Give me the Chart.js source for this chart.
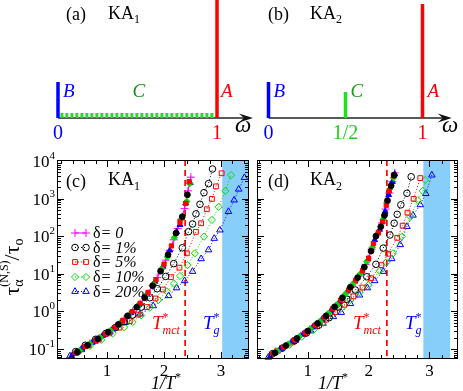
<!DOCTYPE html>
<html>
<head>
<meta charset="utf-8">
<script src="https://cdn.jsdelivr.net/npm/chart.js@4.4.1/dist/chart.umd.min.js"></script>
<style>
html,body{margin:0;padding:0;background:#ffffff;}
#wrap{position:relative;width:463px;height:391px;overflow:hidden;background:#fff}
#wrap canvas{position:absolute;left:0;top:0}
</style>
</head>
<body>
<div id="wrap">
<canvas id="pa" width="463" height="391"></canvas>
<canvas id="pb" width="463" height="391"></canvas>
<canvas id="pc" width="463" height="391"></canvas>
<canvas id="pd" width="463" height="391"></canvas>
</div>
<script>
// ---------------- DATA ----------------
// (a) KA1 spectrum: delta peaks B (omega=0), A (omega=1), continuum C between
const specA_peakW = [0, 1];
const specA_peakH = [0.305, 1.05];
const specA_contW = [0.015, 0.985];
const specA_contH = [0.021, 0.021];
// (b) KA2 spectrum: B (0), C (1/2), A (1)
const specB_peakW = [0, 0.5, 1];
const specB_peakH = [0.305, 0.22, 0.966];
const specTickLabelsA = ['0', '1'];
const specTickLabelsB = ['0', '1/2', '1'];

// x tick labels, y decades
const xTickLabels = [1, 2, 3];
const yDecades = [-1, 0, 1, 2, 3, 4];
const legendLabels = ['0', '1%', '5%', '10%', '20%'];

// (c) KA1 : open symbols, delta = 0,1,5,10,20 %
const c0x = [0.42,0.55,0.7,0.86,1.0,1.15,1.3,1.45,1.58,1.7,1.8,1.88,1.96,2.03,2.1,2.17,2.24,2.3,2.36,2.42,2.47];
const c0y = [0.071,0.1,0.14,0.19,0.27,0.39,0.62,1.0,1.6,2.8,4.8,7.9,13.5,23,42,80,160,280,540,1600,3700];
const c1x = [0.45,0.62,0.8,0.98,1.15,1.3,1.45,1.6,1.75,1.88,2.03,2.17,2.32,2.43,2.5,2.56,2.63,2.7,2.78,2.85];
const c1y = [0.085,0.125,0.18,0.26,0.37,0.53,0.8,1.3,2.3,4.0,8.5,18.6,49,132,211,390,705,1435,2490,6100];
const c5x = [0.5,0.68,0.86,1.04,1.22,1.4,1.55,1.7,1.85,1.98,2.12,2.27,2.4,2.56,2.65,2.75,2.84,2.91,3.01];
const c5y = [0.088,0.125,0.18,0.26,0.37,0.55,0.82,1.3,2.2,3.8,8.1,14.5,35,130,220,520,980,2100,4700];
const c10x = [0.5,0.7,0.9,1.1,1.3,1.45,1.6,1.75,1.9,2.05,2.17,2.28,2.41,2.54,2.7,2.84,2.96,3.075,3.175];
const c10y = [0.082,0.12,0.175,0.26,0.38,0.52,0.78,1.25,2.0,3.4,5.5,8.7,17,35,97,270,600,1600,4200];
const c20x = [0.35,0.55,0.79,1.05,1.32,1.58,1.81,2.08,2.22,2.36,2.5,2.65,2.78,2.88,2.98,3.13,3.23,3.31,3.41];
const c20y = [0.065,0.095,0.16,0.28,0.5,0.85,1.4,2.6,4.2,6.5,11.5,25,43,87,145,450,910,1770,3600];
// (c) filled symbols
const cf1x = [0.48,0.66,0.84,1.02,1.2,1.36,1.52,1.66,1.8,1.94,2.07,2.21,2.32,2.41];
const cf1y = [0.083,0.126,0.186,0.28,0.45,0.76,1.29,2.3,4.8,11.7,32,120,330,1260];
const cf5x = [0.45,0.62,0.8,0.97,1.14,1.28,1.44,1.58,1.72,1.86,2.0,2.13,2.28,2.38,2.44];
const cf5y = [0.076,0.117,0.17,0.25,0.38,0.58,0.98,1.62,3.2,6.9,18,55,235,740,2800];
const cf10x = [0.52,0.7,0.88,1.06,1.22,1.38,1.54,1.68,1.82,1.96,2.06,2.18,2.3,2.4,2.45];
const cf10y = [0.091,0.138,0.204,0.31,0.48,0.79,1.4,2.6,5.4,13.5,28,91,280,830,2500];
const cf20x = [0.38,0.56,0.74,0.92,1.1,1.26,1.42,1.56,1.7,1.84,1.98,2.1,2.22,2.28,2.38,2.46];
const cf20y = [0.065,0.102,0.148,0.224,0.34,0.54,0.91,1.5,2.8,6.2,15.5,42,130,200,760,2600];

// (d) KA2 : open symbols
const d0x = [0.4,0.55,0.72,0.88,1.03,1.18,1.32,1.46,1.6,1.72,1.84,1.95,2.05,2.14,2.22,2.28,2.34,2.39,2.43];
const d0y = [0.068,0.098,0.148,0.224,0.33,0.5,0.81,1.4,2.6,4.8,8.7,17.8,45,107,224,525,1400,2800,4800];
const d1x = [0.42,0.58,0.78,0.98,1.18,1.35,1.5,1.64,1.78,1.97,2.12,2.24,2.35,2.42,2.47,2.53,2.63,2.7];
const d1y = [0.075,0.105,0.165,0.27,0.43,0.68,1.3,2.1,3.7,8.3,17.8,48,107,220,380,680,1380,3800];
const d5x = [0.5,0.75,0.95,1.15,1.3,1.45,1.6,1.75,1.9,2.04,2.21,2.32,2.47,2.56,2.64,2.74,2.85];
const d5y = [0.09,0.15,0.25,0.4,0.6,0.95,1.5,2.5,4.3,7.6,17,34,90,190,420,980,3500];
const d10x = [0.5,0.7,0.9,1.1,1.25,1.4,1.55,1.7,1.85,2.0,2.18,2.29,2.4,2.545,2.69,2.81,2.89,2.93];
const d10y = [0.085,0.13,0.21,0.33,0.5,0.78,1.2,2.0,3.2,5.0,12,20,35,98,330,910,1600,3100];
const d20x = [0.35,0.55,0.8,1.05,1.25,1.42,1.55,1.7,1.85,1.98,2.1,2.24,2.38,2.52,2.63,2.73,2.85,2.94,3.04];
const d20y = [0.06,0.1,0.17,0.3,0.48,0.72,0.93,1.6,2.7,4.2,6.5,11.5,25,59,180,360,680,1350,4200];
// (d) filled symbols
const df1x = [0.46,0.64,0.82,1.0,1.16,1.3,1.44,1.57,1.7,1.82,1.93,2.04,2.12,2.2,2.26,2.31,2.37,2.42];
const df1y = [0.079,0.123,0.19,0.3,0.48,0.76,1.32,2.3,4.4,7.9,15,40,100,178,355,890,2200,4200];
const df5x = [0.42,0.6,0.78,0.96,1.12,1.27,1.41,1.54,1.67,1.79,1.9,2.0,2.08,2.16,2.23,2.29,2.34,2.41];
const df5y = [0.074,0.112,0.174,0.275,0.43,0.68,1.17,2.0,3.7,6.8,12,26,63,126,240,660,1600,4000];
const df10x = [0.5,0.68,0.86,1.04,1.2,1.34,1.48,1.62,1.75,1.86,1.97,2.06,2.15,2.24,2.3,2.35,2.41];
const df10y = [0.087,0.135,0.214,0.34,0.54,0.89,1.5,2.9,5.5,9.8,21,50,117,280,790,1800,3550];
const df20x = [0.38,0.56,0.74,0.92,1.08,1.23,1.38,1.52,1.65,1.77,1.88,1.99,2.1,2.18,2.27,2.33,2.39,2.43];
const df20y = [0.063,0.102,0.155,0.245,0.38,0.6,1.05,1.8,3.4,6.2,10.7,24.5,79,150,450,1260,2800,4470];

// ---------------- HELPERS ----------------
const FONT = '"Liberation Serif","Times New Roman",serif';
const f = (s, st) => (st ? st + ' ' : '') + s + 'px ' + FONT;
const MAG = '#ff00ff', BLK = '#000000', RED = '#ff0000', GRN = '#00dd00', BLU = '#0000ff';

function pts(xs, ys) { return xs.map((x, i) => ({ x: x, y: ys[i] })); }

function richWidth(ctx, parts) {
  let x = 0, ps = 0, pe = 0;
  for (const p of parts) {
    ctx.font = p.f; const w = ctx.measureText(p.t).width;
    if (p.stack) { pe = Math.max(pe, ps + w); x = pe; } else { ps = x; pe = x + w; x = pe; }
  }
  return x;
}
function rich(ctx, x0, y, parts, align) {
  const W = richWidth(ctx, parts);
  let x = align === 'right' ? x0 - W : align === 'center' ? x0 - W / 2 : x0;
  let ps = x, pe = x;
  ctx.textAlign = 'left'; ctx.textBaseline = 'alphabetic';
  for (const p of parts) {
    ctx.font = p.f; ctx.fillStyle = p.c || '#000';
    const w = ctx.measureText(p.t).width;
    const sx = p.stack ? ps : pe;
    ctx.fillText(p.t, sx, y + (p.dy || 0));
    if (p.stack) { pe = Math.max(pe, sx + w); } else { ps = sx; pe = sx + w; }
  }
}
function txt(ctx, s, x, y, font, color, align) {
  ctx.font = font; ctx.fillStyle = color || '#000'; ctx.textAlign = align || 'left'; ctx.textBaseline = 'alphabetic';
  ctx.fillText(s, x, y);
}

// ---------------- PANELS (a), (b) ----------------
function vbar(w, h, color, width) {
  return { data: [{ x: w, y: 0 }, { x: w, y: h }], showLine: true, borderColor: color, borderWidth: width,
    pointRadius: 0, clip: false, borderCapStyle: 'butt' };
}
function specPlugin(cfg) {
  return {
    id: 'spec' + cfg.id,
    beforeDatasetsDraw(chart) {
      const ctx = chart.ctx, xs = chart.scales.x, ys = chart.scales.y;
      const y0 = ys.getPixelForValue(0), x0 = xs.getPixelForValue(0), xe = xs.getPixelForValue(cfg.axisEnd);
      ctx.save();
      ctx.strokeStyle = '#5a5a5a'; ctx.lineWidth = 2;
      ctx.beginPath(); ctx.moveTo(x0, y0); ctx.lineTo(xe - 5, y0); ctx.stroke();
      ctx.fillStyle = '#111';
      ctx.beginPath(); ctx.moveTo(xe, y0); ctx.lineTo(xe - 14, y0 - 4.5); ctx.lineTo(xe - 9, y0);
      ctx.lineTo(xe - 14, y0 + 4.5); ctx.closePath(); ctx.fill();
      ctx.restore();
    },
    afterDraw(chart) {
      const ctx = chart.ctx, xs = chart.scales.x;
      ctx.save();
      txt(ctx, cfg.tag, cfg.tagX, 20, f(18));
      rich(ctx, cfg.tagX + 42, 19, [{ t: 'KA', f: f(18) }, { t: cfg.sub, f: f(12), dy: 4 }]);
      cfg.labels.forEach(l => txt(ctx, l.t, xs.getPixelForValue(l.w) + l.dx, 97, f(19, 'italic'), l.c));
      cfg.ticks.forEach(tk => txt(ctx, tk.t, xs.getPixelForValue(tk.w), 139, f(20), tk.c, 'center'));
      txt(ctx, '\u03c9', cfg.omegaX, 132, f(23, 'italic'), '#000', 'center');
      ctx.restore();
    }
  };
}
const baseOpts = (pad, xmin, xmax, ytype, ymin, ymax) => ({
  responsive: false, animation: false, events: [],
  layout: { padding: pad },
  scales: {
    x: { type: 'linear', display: false, min: xmin, max: xmax },
    y: { type: ytype, display: false, min: ymin, max: ymax }
  },
  plugins: { legend: { display: false }, tooltip: { enabled: false } }
});

new Chart(document.getElementById('pa'), {
  type: 'scatter',
  data: { datasets: [
    { data: pts(specA_contW, specA_contH), showLine: true, borderColor: '#22dd22', borderWidth: 5,
      borderDash: [3, 2], pointRadius: 0, clip: false, borderCapStyle: 'butt' },
    vbar(specA_peakW[0], specA_peakH[0], BLU, 3.5),
    vbar(specA_peakW[1], specA_peakH[1], RED, 3.5)
  ] },
  options: baseOpts({ left: 40, right: 203, top: 0, bottom: 273 }, -0.1132, 1.2704, 'linear', 0, 1),
  plugins: [specPlugin({ id: 'a', axisEnd: 1.226, tag: '(a)', tagX: 66, sub: '1', omegaX: 243,
    labels: [{ t: 'B', w: 0, dx: 5, c: BLU }, { t: 'C', w: 0.5, dx: -5, c: '#1a8f1a' }, { t: 'A', w: 1, dx: 4, c: RED }],
    ticks: [{ t: specTickLabelsA[0], w: 0, c: BLU }, { t: specTickLabelsA[1], w: 1, c: RED }] })]
});

new Chart(document.getElementById('pb'), {
  type: 'scatter',
  data: { datasets: [
    vbar(specB_peakW[0], specB_peakH[0], BLU, 3.5),
    vbar(specB_peakW[1], specB_peakH[1], '#22dd22', 3.5),
    vbar(specB_peakW[2], specB_peakH[2], RED, 3.5)
  ] },
  options: baseOpts({ left: 250, right: 0, top: 0, bottom: 273 }, -0.1201, 1.263, 'linear', 0, 1),
  plugins: [specPlugin({ id: 'b', axisEnd: 1.19, tag: '(b)', tagX: 268, sub: '2', omegaX: 450,
    labels: [{ t: 'B', w: 0, dx: 5, c: BLU }, { t: 'C', w: 0.5, dx: 5, c: '#1a9a1a' }, { t: 'A', w: 1, dx: 5, c: RED }],
    ticks: [{ t: specTickLabelsB[0], w: 0, c: BLU }, { t: specTickLabelsB[1], w: 0.5, c: '#22cc22' }, { t: specTickLabelsB[2], w: 1, c: RED }] })]
});

// ---------------- PANELS (c), (d) ----------------
const STY = [
  { c: MAG, ps: 'cross', r: 4, line: true, dash: [] },
  { c: BLK, ps: 'circle', r: 3.3, line: true, dash: [1, 2] },
  { c: RED, ps: 'rect', r: 3.4, line: true, dash: [1, 2] },
  { c: GRN, ps: 'rectRot', r: 3.6, line: true, dash: [1, 2] },
  { c: BLU, ps: 'triangle', r: 3.8, line: true, dash: [1, 2] }
];
function openDS(xs, ys, s) {
  return { data: pts(xs, ys), showLine: true, borderColor: s.c, borderWidth: s.dash.length ? 1 : 1.2,
    borderDash: s.dash, pointStyle: s.ps, pointRadius: s.r, pointBorderWidth: 1, pointBorderColor: s.c,
    pointBackgroundColor: 'rgba(255,255,255,0)', tension: 0, clip: false };
}
function fillDS(xs, ys, s) {
  return { data: pts(xs, ys), showLine: false, pointStyle: s.ps, pointRadius: s.r - 0.4, pointBorderWidth: 1,
    pointBorderColor: s.c, pointBackgroundColor: s.c, clip: false };
}
function marker(ctx, s, x, y) {
  ctx.strokeStyle = s.c; ctx.fillStyle = 'rgba(255,255,255,0)'; ctx.lineWidth = 1;
  if (Chart.helpers && Chart.helpers.drawPoint) {
    Chart.helpers.drawPoint(ctx, { pointStyle: s.ps, radius: s.r, borderWidth: 1, rotation: 0 }, x, y);
  } else {
    ctx.beginPath(); ctx.arc(x, y, s.r, 0, Math.PI * 2); ctx.stroke();
  }
}

function panelPlugin(cfg) {
  return {
    id: 'panel' + cfg.id,
    beforeDatasetsDraw(chart) {
      const ctx = chart.ctx, a = chart.chartArea, xs = chart.scales.x;
      ctx.save();
      ctx.beginPath(); ctx.rect(a.left, a.top, a.right - a.left, a.bottom - a.top); ctx.clip();
      const b1 = xs.getPixelForValue(cfg.band[0]), b2 = xs.getPixelForValue(cfg.band[1]);
      ctx.fillStyle = '#87cefa'; ctx.fillRect(b1, a.top, b2 - b1, a.bottom - a.top);
      const xm = xs.getPixelForValue(cfg.mct);
      ctx.strokeStyle = RED; ctx.lineWidth = 1.7; ctx.setLineDash([6, 4]);
      ctx.beginPath(); ctx.moveTo(xm, a.top); ctx.lineTo(xm, a.bottom); ctx.stroke();
      ctx.restore();
    },
    afterDraw(chart) {
      const ctx = chart.ctx, a = chart.chartArea, xs = chart.scales.x, ys = chart.scales.y;
      ctx.save();
      // frame
      ctx.strokeStyle = '#000'; ctx.lineWidth = 1; ctx.setLineDash([]);
      ctx.strokeRect(Math.round(a.left) + 0.5, Math.round(a.top) + 0.5, Math.round(a.right - a.left) - 1, Math.round(a.bottom - a.top) - 1);
      // x ticks
      ctx.beginPath();
      for (let v = 0.2; v < 3.55; v += 0.2) {
        const vv = Math.round(v * 10) / 10;
        const px = Math.round(xs.getPixelForValue(vv)) + 0.5;
        if (px <= a.left + 1 || px >= a.right - 1) continue;
        const L = (Math.abs(vv - Math.round(vv)) < 1e-6) ? 7 : 4;
        ctx.moveTo(px, a.bottom); ctx.lineTo(px, a.bottom - L);
        ctx.moveTo(px, a.top); ctx.lineTo(px, a.top + L);
      }
      // y ticks
      for (let k = -2; k <= 4; k++) {
        for (let m = 1; m <= 9; m++) {
          const val = m * Math.pow(10, k);
          const py = ys.getPixelForValue(val);
          if (py < a.top + 1 || py > a.bottom - 1) continue;
          const pyr = Math.round(py) + 0.5;
          const L = m === 1 ? 7 : 4;
          ctx.moveTo(a.left, pyr); ctx.lineTo(a.left + L, pyr);
          ctx.moveTo(a.right, pyr); ctx.lineTo(a.right - L, pyr);
        }
      }
      ctx.stroke();
      // x tick labels
      xTickLabels.forEach(v => txt(ctx, String(v), xs.getPixelForValue(v), 376, f(17), '#000', 'center'));
      // x title
      rich(ctx, cfg.xTitleX, 389, [{ t: '1/T', f: f(18, 'italic') }, { t: '*', f: f(12), dy: -8 }], 'center');
      // y tick labels
      if (cfg.yLabels) {
        yDecades.forEach(k => {
          const py = ys.getPixelForValue(Math.pow(10, k));
          rich(ctx, a.left - 2, py + 6, [{ t: '10', f: f(17) }, { t: String(k), f: f(11), dy: -8 }], 'right');
        });
        ctx.save();
        ctx.translate(19, 267); ctx.rotate(-Math.PI / 2);
        rich(ctx, 0, 0, [
          { t: '\u03c4', f: f(22) },
          { t: '\u03b1', f: f(14), dy: 4 },
          { t: '(N,S)', f: f(12), dy: -11, stack: true },
          { t: '/\u03c4', f: f(22) },
          { t: 'o', f: f(14), dy: 4 }
        ], 'center');
        ctx.restore();
      }
      // panel tag
      txt(ctx, cfg.tag, cfg.tagX, 187, f(18));
      rich(ctx, cfg.tagX + 42, 185, [{ t: 'KA', f: f(18) }, { t: cfg.sub, f: f(12), dy: 5 }]);
      // T* labels
      rich(ctx, cfg.mctX, 329, [{ t: 'T', f: f(19, 'italic'), c: RED }, { t: '*', f: f(12), dy: -8, c: RED },
        { t: 'mct', f: f(12, 'italic'), dy: 5, c: RED, stack: true }]);
      rich(ctx, cfg.gX, 329, [{ t: 'T', f: f(19, 'italic'), c: BLU }, { t: '*', f: f(12), dy: -8, c: BLU },
        { t: 'g', f: f(12, 'italic'), dy: 5, c: BLU, stack: true }]);
      // legend
      if (cfg.legend) {
        const ly = [233, 247.5, 262, 277, 291.5];
        STY.forEach((s, i) => {
          const y = ly[i];
          ctx.save();
          ctx.strokeStyle = s.c; ctx.lineWidth = 1; ctx.setLineDash(s.dash);
          ctx.beginPath(); ctx.moveTo(75, y); ctx.lineTo(86, y); ctx.stroke();
          ctx.setLineDash([]);
          marker(ctx, s, 75, y); marker(ctx, s, 86, y);
          ctx.restore();
          rich(ctx, 93, y + 5, [{ t: '\u03b4', f: f(16) }, { t: '= ' + legendLabels[i], f: f(16, 'italic') }]);
        });
      }
      ctx.restore();
    }
  };
}

function bottomChart(id, pad, xmin, xmax, open, filled, cfg) {
  const ds = [];
  filled.forEach((p, i) => ds.push(fillDS(p[0], p[1], STY[i + 1])));
  ds.push(openDS(open[0][0], open[0][1], STY[0]));
  for (let i = 1; i < open.length; i++) ds.push(openDS(open[i][0], open[i][1], STY[i]));
  new Chart(document.getElementById(id), {
    type: 'scatter',
    data: { datasets: ds },
    options: baseOpts(pad, xmin, xmax, 'logarithmic', 0.054, 10600),
    plugins: [panelPlugin(cfg)]
  });
}

bottomChart('pc', { left: 57, right: 214, top: 160, bottom: 32 }, 0.123, 3.49,
  [[c0x, c0y], [c1x, c1y], [c5x, c5y], [c10x, c10y], [c20x, c20y]],
  [[cf1x, cf1y], [cf5x, cf5y], [cf10x, cf10y], [cf20x, cf20y]],
  { id: 'c', band: [3.02, 3.6], mct: 2.37, tag: '(c)', tagX: 66, sub: '1', xTitleX: 166, mctX: 152, gX: 203, yLabels: true, legend: true });

bottomChart('pd', { left: 257, right: 5, top: 160, bottom: 32 }, 0.164, 3.47,
  [[d0x, d0y], [d1x, d1y], [d5x, d5y], [d10x, d10y], [d20x, d20y]],
  [[df1x, df1y], [df5x, df5y], [df10x, df10y], [df20x, df20y]],
  { id: 'd', band: [2.9, 3.34], mct: 2.3, tag: '(d)', tagX: 268, sub: '2', xTitleX: 333, mctX: 353, gX: 405, yLabels: false, legend: false });
</script>
</body>
</html>
